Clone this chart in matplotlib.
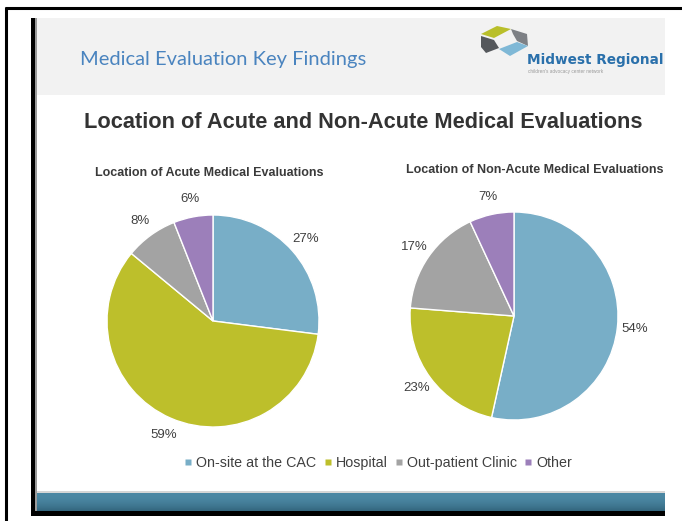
#!/usr/bin/env python3
"""Slide: location of acute vs non-acute medical evaluations (two pies)."""

import numpy as np
import matplotlib
matplotlib.use("Agg")
import matplotlib.pyplot as plt
from matplotlib.patches import Rectangle, Polygon
from matplotlib.lines import Line2D

matplotlib.rcParams.update({
    "font.family": ["Liberation Sans", "DejaVu Sans"],
})

W, H = 682, 521

categories = ["On-site at the CAC", "Hospital", "Out-patient Clinic", "Other"]
acute_pct = [27, 59, 8, 6]
nonacute_pct = [54, 23, 17, 7]
colors = ["#78aec7", "#bdbf2b", "#a3a3a3", "#9c7fba"]

slide_title = "Location of Acute and Non-Acute Medical Evaluations"
header = "Medical Evaluation Key Findings"
pie_titles = ["Location of Acute Medical Evaluations",
              "Location of Non-Acute Medical Evaluations"]

fig = plt.figure(figsize=(W / 100, H / 100), dpi=100)
ax = fig.add_axes([0, 0, 1, 1])
ax.set_xlim(0, W)
ax.set_ylim(H, 0)
ax.axis("off")

# page frame (only top and left edges visible in the screenshot)
ax.plot([5, W], [8, 8], color="black", lw=2.2, solid_capstyle="butt")
ax.plot([6, 6], [7, H], color="black", lw=2.2, solid_capstyle="butt")

# slide body
ax.add_patch(Rectangle((35, 18), 630, 77, color="#f2f2f2", lw=0, zorder=0))
ax.add_patch(Rectangle((31, 18), 4, 498, color="black", lw=0, zorder=3))
ax.add_patch(Rectangle((35, 18), 1.5, 494, color="#9a9a9a", lw=0, zorder=3))
ax.add_patch(Rectangle((35, 491), 630, 2.5, color="#d6d6d6", lw=0, zorder=2))
grad = np.linspace(0, 1, 20)[:, None, None] ** 2
top_c = np.array([0x4c, 0x88, 0xa4]) / 255
bot_c = np.array([0x33, 0x66, 0x7e]) / 255
ax.imshow(top_c + (bot_c - top_c) * grad, extent=(35, 665, 511, 493.5),
          aspect="auto", zorder=2, interpolation="bilinear")
ax.add_patch(Rectangle((31, 511), 634, 5, color="black", lw=0, zorder=3))
ax.set_xlim(0, W)
ax.set_ylim(H, 0)

# header
ax.text(80, 60, header, fontsize=14.5, color="#4a84bf", va="center",
        family=["Lato", "DejaVu Sans"])

# logo
ax.add_patch(Polygon([(481, 34), (497, 26), (511, 29), (494, 38)],
                     color="#b9bf2a", lw=0))
ax.add_patch(Polygon([(481, 36), (494, 40), (499, 48), (486, 53), (481, 47)],
                     color="#55585c", lw=0))
ax.add_patch(Polygon([(511, 29), (527, 34), (528, 46), (517, 41), (513, 34)],
                     color="#7d8085", lw=0))
ax.add_patch(Polygon([(499, 49), (517, 42), (528, 46), (510, 56)],
                     color="#7fb8d6", lw=0))
ax.text(527, 60, "Midwest Regional", fontsize=9.8, fontweight="heavy",
        color="#2a70ab", va="center", family=["DejaVu Sans"])
ax.text(528, 71, "children's advocacy center network", fontsize=3.4,
        color="#9a9a9a", va="center")

# slide title
ax.text(363, 122, slide_title, fontsize=15.7, fontweight="bold",
        color="#333333", ha="center", va="center")

# pies
pies = [(acute_pct, 213, 321, 106, 209, 173),
        (nonacute_pct, 514, 316, 104, 535, 170)]
for (vals, cx, cy, r, tx, ty), ptitle in zip(pies, pie_titles):
    pax = fig.add_axes([(cx - r) / W, 1 - (cy + r) / H, 2 * r / W, 2 * r / H])
    w, texts = pax.pie(vals, colors=colors, startangle=90, counterclock=False,
                       labels=[f"{v}%" for v in vals], labeldistance=1.17,
                       wedgeprops=dict(edgecolor="white", linewidth=1.0),
                       textprops=dict(fontsize=9.5, color="#404040"))
    for t in texts:
        t.set_ha("center")
        t.set_va("center")
    pax.set_xlim(-1, 1)
    pax.set_ylim(-1, 1)
    pax.axis("off")
    ax.text(tx, ty, ptitle, fontsize=9, fontweight="bold", color="#3a3a3a",
            ha="center", va="center")

# clip anything past the slide's right edge
ax.add_patch(Rectangle((665, 12), 17, H - 12, color="white", lw=0, zorder=10))

handles = [Line2D([], [], marker="s", ls="none", markersize=5,
                  markerfacecolor=c, markeredgecolor="none") for c in colors]
fig.legend(handles, categories, loc="center", bbox_to_anchor=(378 / W, 1 - 463 / H),
           ncol=4, frameon=False, fontsize=10.3, handlelength=0.6,
           handletextpad=0.25, columnspacing=0.5, labelcolor="#404040")

fig.savefig("out.png", dpi=100)
